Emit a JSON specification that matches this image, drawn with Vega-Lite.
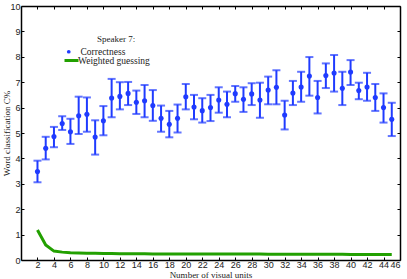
{
  "$schema": "https://vega.github.io/schema/vega-lite/v6.json",
  "width": 379,
  "height": 254,
  "autosize": {"type": "none"},
  "padding": {"left": 21, "top": 6, "right": 7, "bottom": 19},
  "background": "white",
  "title": {"text": "Speaker 7:", "anchor": "start", "frame": "group", "orient": "top", "offset": 0, "dx": 76, "dy": 51,
    "font": "Liberation Serif", "fontSize": 9, "fontWeight": "normal", "color": "#222", "baseline": "bottom"},
  "config": {
    "view": {"stroke": null},
    "axis": {
      "domainColor": "black", "domainWidth": 1.5, "tickColor": "black", "tickWidth": 1,
      "grid": false, "labelFont": "Liberation Sans", "labelFontSize": 9, "labelColor": "#222",
      "titleFont": "Liberation Serif", "titleFontSize": 9, "titleFontWeight": "normal", "titleColor": "#222"
    },
    "legend": {"labelFont": "Liberation Serif", "labelFontSize": 9.5, "labelColor": "#222", "padding": 0, "rowPadding": 0}
  },
  "data": {"values": [
    {"x": 2, "c": 3.48, "lo": 3.06, "hi": 3.91, "g": 1.18},
    {"x": 3, "c": 4.40, "lo": 3.96, "hi": 4.85, "g": 0.59},
    {"x": 4, "c": 4.86, "lo": 4.44, "hi": 5.24, "g": 0.35},
    {"x": 5, "c": 5.37, "lo": 5.12, "hi": 5.66, "g": 0.31},
    {"x": 6, "c": 5.05, "lo": 4.57, "hi": 5.56, "g": 0.29},
    {"x": 7, "c": 5.68, "lo": 4.96, "hi": 6.43, "g": 0.28},
    {"x": 8, "c": 5.74, "lo": 5.05, "hi": 6.40, "g": 0.27},
    {"x": 9, "c": 4.84, "lo": 4.15, "hi": 5.50, "g": 0.27},
    {"x": 10, "c": 5.48, "lo": 4.91, "hi": 6.06, "g": 0.26},
    {"x": 11, "c": 6.38, "lo": 5.62, "hi": 7.13, "g": 0.26},
    {"x": 12, "c": 6.44, "lo": 5.93, "hi": 7.00, "g": 0.25},
    {"x": 13, "c": 6.56, "lo": 6.10, "hi": 7.01, "g": 0.25},
    {"x": 14, "c": 6.21, "lo": 5.75, "hi": 6.67, "g": 0.25},
    {"x": 15, "c": 6.27, "lo": 5.62, "hi": 6.89, "g": 0.25},
    {"x": 16, "c": 6.08, "lo": 5.48, "hi": 6.69, "g": 0.24},
    {"x": 17, "c": 5.58, "lo": 5.05, "hi": 6.08, "g": 0.24},
    {"x": 18, "c": 5.34, "lo": 4.83, "hi": 5.87, "g": 0.24},
    {"x": 19, "c": 5.58, "lo": 5.02, "hi": 6.12, "g": 0.24},
    {"x": 20, "c": 6.43, "lo": 5.93, "hi": 6.93, "g": 0.24},
    {"x": 21, "c": 6.02, "lo": 5.54, "hi": 6.50, "g": 0.24},
    {"x": 22, "c": 5.88, "lo": 5.41, "hi": 6.37, "g": 0.24},
    {"x": 23, "c": 6.00, "lo": 5.47, "hi": 6.50, "g": 0.24},
    {"x": 24, "c": 6.30, "lo": 5.80, "hi": 6.80, "g": 0.24},
    {"x": 25, "c": 6.13, "lo": 5.62, "hi": 6.63, "g": 0.24},
    {"x": 26, "c": 6.55, "lo": 6.23, "hi": 6.85, "g": 0.24},
    {"x": 27, "c": 6.33, "lo": 5.83, "hi": 6.80, "g": 0.24},
    {"x": 28, "c": 6.54, "lo": 6.10, "hi": 6.96, "g": 0.24},
    {"x": 29, "c": 6.30, "lo": 5.60, "hi": 6.98, "g": 0.24},
    {"x": 30, "c": 6.69, "lo": 6.13, "hi": 7.22, "g": 0.23},
    {"x": 31, "c": 6.80, "lo": 6.13, "hi": 7.47, "g": 0.23},
    {"x": 32, "c": 5.71, "lo": 5.14, "hi": 6.27, "g": 0.23},
    {"x": 33, "c": 6.57, "lo": 6.10, "hi": 7.05, "g": 0.23},
    {"x": 34, "c": 6.81, "lo": 6.23, "hi": 7.41, "g": 0.23},
    {"x": 35, "c": 7.24, "lo": 6.47, "hi": 7.99, "g": 0.23},
    {"x": 36, "c": 6.40, "lo": 5.77, "hi": 7.05, "g": 0.23},
    {"x": 37, "c": 7.26, "lo": 6.77, "hi": 7.74, "g": 0.23},
    {"x": 38, "c": 7.36, "lo": 6.63, "hi": 8.07, "g": 0.23},
    {"x": 39, "c": 6.76, "lo": 6.10, "hi": 7.41, "g": 0.23},
    {"x": 40, "c": 7.40, "lo": 6.89, "hi": 7.87, "g": 0.22},
    {"x": 41, "c": 6.67, "lo": 6.33, "hi": 6.98, "g": 0.22},
    {"x": 42, "c": 6.81, "lo": 6.27, "hi": 7.37, "g": 0.22},
    {"x": 43, "c": 6.40, "lo": 5.87, "hi": 6.93, "g": 0.22},
    {"x": 44, "c": 6.00, "lo": 5.41, "hi": 6.56, "g": 0.22},
    {"x": 45, "c": 5.54, "lo": 4.88, "hi": 6.19, "g": 0.22}
  ]},
  "resolve": {"axis": {"x": "independent", "y": "independent"}, "scale": {"color": "independent"}, "legend": {"color": "independent"}},
  "layer": [
    {
      "mark": {"type": "rule", "color": "#1f3bff", "strokeWidth": 2},
      "encoding": {
        "x": {"field": "x", "type": "quantitative", "scale": {"domain": [0, 46], "nice": false},
          "axis": {"orient": "bottom", "values": [2,4,6,8,10,12,14,16,18,20,22,24,26,28,30,32,34,36,38,40,42,44,46],
            "tickSize": -3, "labelPadding": 3, "title": "Number of visual units", "titleY": 10, "titleBaseline": "top"}},
        "y": {"field": "lo", "type": "quantitative", "scale": {"domain": [0, 10], "nice": false},
          "axis": {"orient": "left", "values": [0,1,2,3,4,5,6,7,8,9,10], "tickSize": -3, "labelPadding": 4,
            "title": "Word classification C%", "titleX": -15, "titleBaseline": "middle"}},
        "y2": {"field": "hi"}
      }
    },
    {
      "mark": {"type": "tick", "orient": "horizontal", "size": 8, "thickness": 2, "color": "#1f3bff"},
      "encoding": {
        "x": {"field": "x", "type": "quantitative", "axis": null},
        "y": {"field": "hi", "type": "quantitative", "axis": null}
      }
    },
    {
      "mark": {"type": "tick", "orient": "horizontal", "size": 8, "thickness": 2, "color": "#1f3bff"},
      "encoding": {
        "x": {"field": "x", "type": "quantitative", "axis": null},
        "y": {"field": "lo", "type": "quantitative", "axis": null}
      }
    },
    {
      "mark": {"type": "point", "filled": true, "size": 26, "opacity": 1},
      "encoding": {
        "x": {"field": "x", "type": "quantitative", "axis": null},
        "y": {"field": "c", "type": "quantitative", "axis": null},
        "color": {"datum": "Correctness", "type": "nominal",
          "scale": {"domain": ["Correctness"], "range": ["#1f3bff"]},
          "legend": {
            "title": null, "orient": "none", "legendX": 43, "legendY": 41,
            "symbolType": "circle", "symbolSize": 14, "symbolStrokeWidth": 1, "labelOffset": 7,
            "encode": {"symbols": {"fill": {"value": "transparent"}, "stroke": {"value": "#1f3bff"}}}
          }}
      }
    },
    {
      "mark": {"type": "line", "strokeWidth": 3},
      "encoding": {
        "x": {"field": "x", "type": "quantitative",
          "axis": {"orient": "top", "values": [2,4,6,8,10,12,14,16,18,20,22,24,26,28,30,32,34,36,38,40,42,44,46], "tickSize": -3, "labels": false, "title": null}},
        "y": {"field": "g", "type": "quantitative",
          "axis": {"orient": "right", "values": [0,1,2,3,4,5,6,7,8,9,10], "tickSize": -3, "labels": false, "title": null}},
        "color": {"datum": "Weighted guessing", "type": "nominal",
          "scale": {"domain": ["Weighted guessing"], "range": ["#22a000"]},
          "legend": {
            "title": null, "orient": "none", "legendX": 42, "legendY": 46,
            "symbolType": "stroke", "symbolSize": 196, "symbolStrokeWidth": 3, "labelOffset": -2
          }}
      }
    }
  ]
}
